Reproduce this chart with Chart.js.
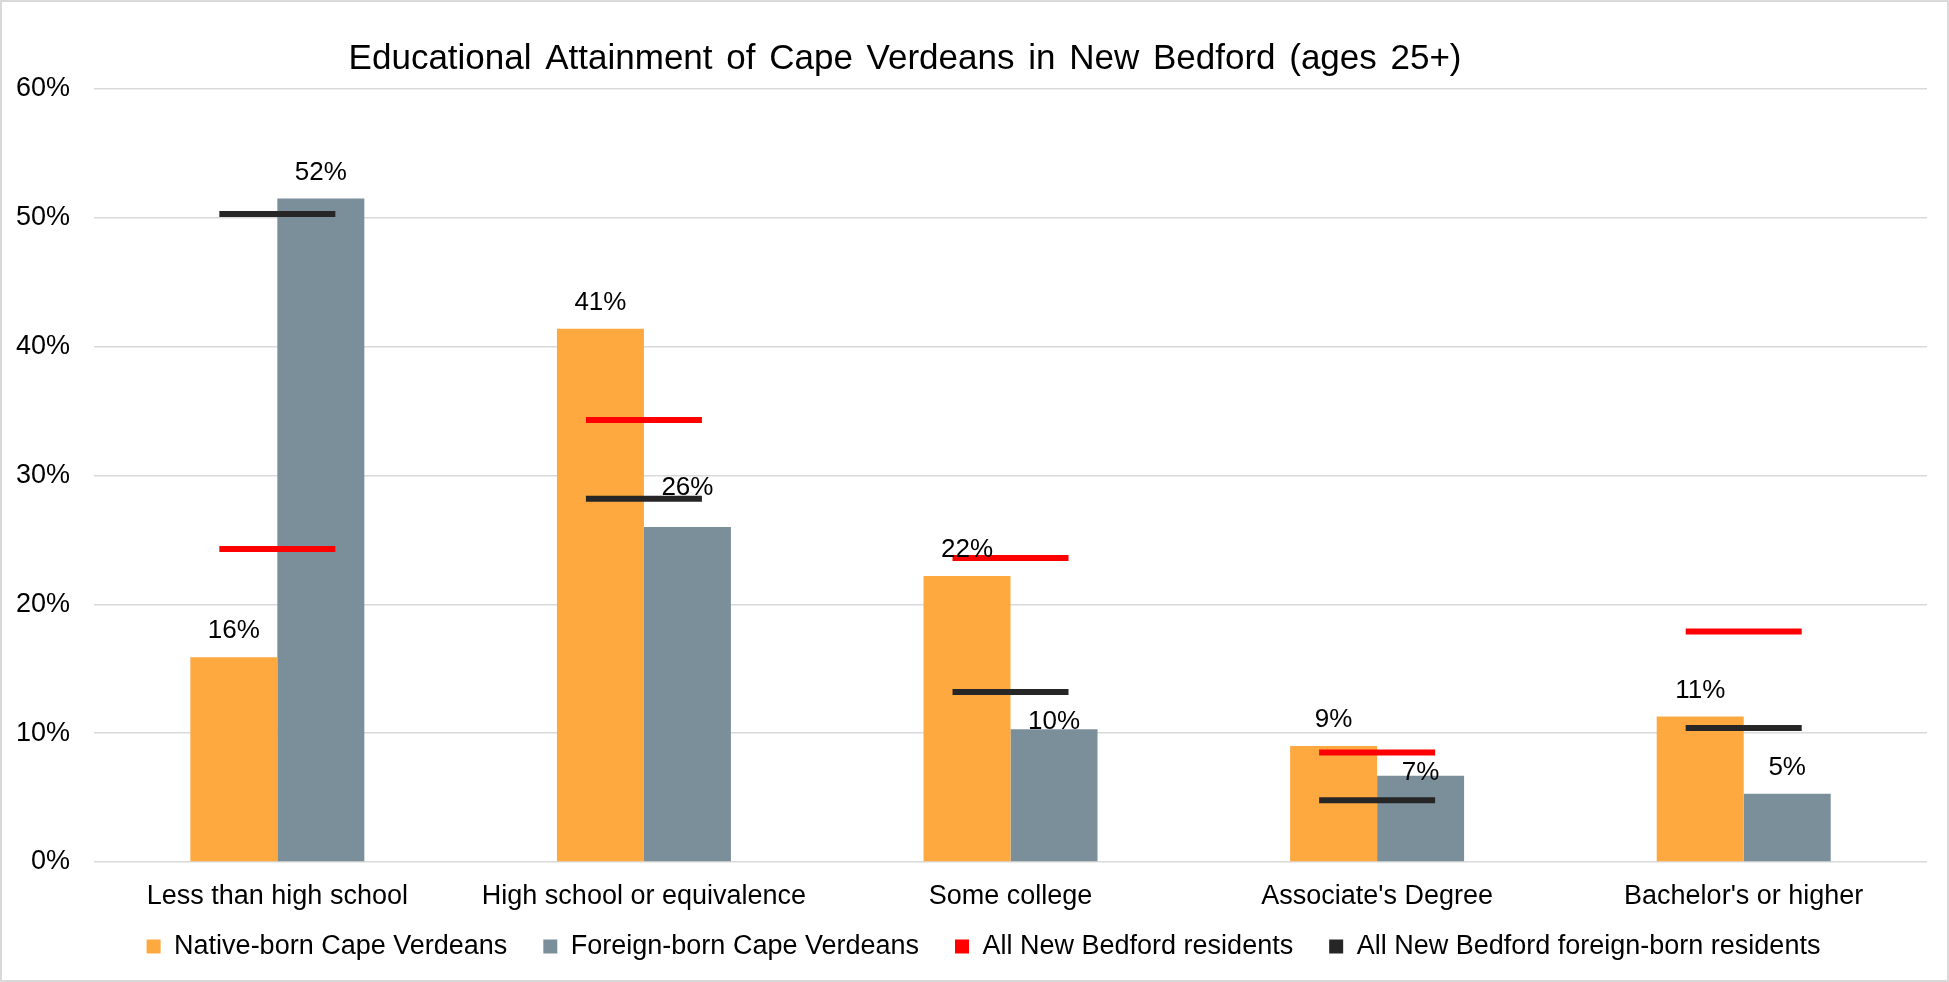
<!DOCTYPE html>
<html>
<head>
<meta charset="utf-8">
<title>Educational Attainment of Cape Verdeans in New Bedford</title>
<script src="https://cdn.jsdelivr.net/npm/chart.js@4.4.1/dist/chart.umd.min.js"></script>
<style>
  html, body { margin: 0; padding: 0; background: #fff; }
  #wrap { width: 1949px; height: 982px; box-sizing: border-box; border: 2px solid #d9d9d9; }
</style>
</head>
<body>
<div id="wrap"><canvas id="chart"></canvas></div>
<script>
var title = 'Educational Attainment of Cape Verdeans in New Bedford (ages 25+)';
var categories = ['Less than high school', 'High school or equivalence', 'Some college', "Associate's Degree", "Bachelor's or higher"];
// percent of people aged 25+
var nativeBorn = [15.9, 41.4, 22.2, 9.0, 11.3];
var foreignBorn = [51.5, 26.0, 10.3, 6.7, 5.3];
var allResidents = [24.3, 34.3, 23.6, 8.5, 17.9];
var allForeignBorn = [50.3, 28.2, 13.2, 4.8, 10.4];
var yMin = 0, yMax = 60, yStep = 10;

Chart.defaults.font.family = "'Liberation Sans', Arial, sans-serif";
Chart.defaults.font.size = 27;
Chart.defaults.color = '#000';

// title drawn by hand, it sits left of centre like the original
var titlePlugin = {
  id: 'wideTitle',
  afterDraw: function (chart) {
    var ctx = chart.ctx;
    ctx.save();
    ctx.font = "35px 'Liberation Sans', Arial, sans-serif";
    ctx.fillStyle = '#000';
    ctx.textAlign = 'center';
    ctx.textBaseline = 'middle';
    if ('wordSpacing' in ctx) ctx.wordSpacing = '4px';
    ctx.fillText(title, chart.width * 0.4643, 57);
    ctx.restore();
  }
};

// value labels above the two bar series
var barLabels = {
  id: 'barLabels',
  afterDatasetsDraw: function (chart, args, opts) {
    var ctx = chart.ctx;
    ctx.save();
    ctx.font = "26px 'Liberation Sans', Arial, sans-serif";
    ctx.fillStyle = '#000';
    ctx.textAlign = 'center';
    ctx.textBaseline = 'middle';
    [0, 1].forEach(function (di) {
      var meta = chart.getDatasetMeta(di);
      meta.data.forEach(function (bar, i) {
        var v = chart.data.datasets[di].data[i];
        var nudge = opts.nudge[di + ',' + i] || 0;
        ctx.fillText(Math.round(v) + '%', bar.x, bar.y - 26 + nudge);
      });
    });
    ctx.restore();
  }
};

// legend padding is wide for the item gaps, so move the legend box a little
var legendShift = {
  id: 'legendShift',
  afterLayout: function (chart, args, opts) {
    var lg = chart.legend;
    if (!lg) return;
    lg.top -= opts.dy;
    lg.bottom -= opts.dy;
    lg.left += opts.dx;
    lg.right += opts.dx;
  }
};

new Chart(document.getElementById('chart'), {
  type: 'bar',
  data: {
    labels: categories,
    datasets: [
      {
        label: 'Native-born Cape Verdeans',
        data: nativeBorn,
        backgroundColor: '#FDA940',
        order: 2
      },
      {
        label: 'Foreign-born Cape Verdeans',
        data: foreignBorn,
        backgroundColor: '#7B8F9B',
        order: 2
      },
      {
        type: 'line',
        label: 'All New Bedford residents',
        data: allResidents,
        showLine: false,
        pointStyle: 'line',
        pointRadius: 58,
        pointHoverRadius: 58,
        pointBorderWidth: 6,
        borderColor: '#FF0000',
        backgroundColor: '#FF0000',
        order: 1
      },
      {
        type: 'line',
        label: 'All New Bedford foreign-born residents',
        data: allForeignBorn,
        showLine: false,
        pointStyle: 'line',
        pointRadius: 58,
        pointHoverRadius: 58,
        pointBorderWidth: 6,
        borderColor: '#262626',
        backgroundColor: '#262626',
        order: 0
      }
    ]
  },
  options: {
    responsive: true,
    maintainAspectRatio: false,
    animation: false,
    categoryPercentage: 0.4746,
    barPercentage: 1.0,
    layout: {
      autoPadding: false,
      padding: { top: 87, left: 14, right: 20, bottom: -5 }
    },
    scales: {
      x: {
        grid: { display: false, drawTicks: false },
        border: { display: false },
        ticks: { padding: 18 },
        afterFit: function (s) { s.height = 50; }
      },
      y: {
        min: yMin,
        max: yMax,
        grid: { color: '#d9d9d9', lineWidth: 1.5, drawTicks: false },
        border: { display: false },
        ticks: {
          stepSize: yStep,
          padding: 24,
          callback: function (v) { return v + '%'; }
        },
        // chart.js counts the tick padding twice
        afterFit: function (s) { s.width -= 24; }
      }
    },
    plugins: {
      title: { display: false },
      tooltip: { enabled: false },
      legend: {
        position: 'bottom',
        labels: {
          boxWidth: 14,
          boxHeight: 14,
          padding: 36,
          sort: function (a, b) { return a.datasetIndex - b.datasetIndex; },
          generateLabels: function (chart) {
            return Chart.defaults.plugins.legend.labels.generateLabels(chart).map(function (it) {
              it.lineWidth = 0;
              return it;
            });
          }
        }
      },
      legendShift: { dx: 12, dy: 15 },
      barLabels: {
        nudge: { '1,1': -13, '1,2': 19, '1,3': 23 }
      }
    }
  },
  plugins: [titlePlugin, barLabels, legendShift]
});
</script>
</body>
</html>
